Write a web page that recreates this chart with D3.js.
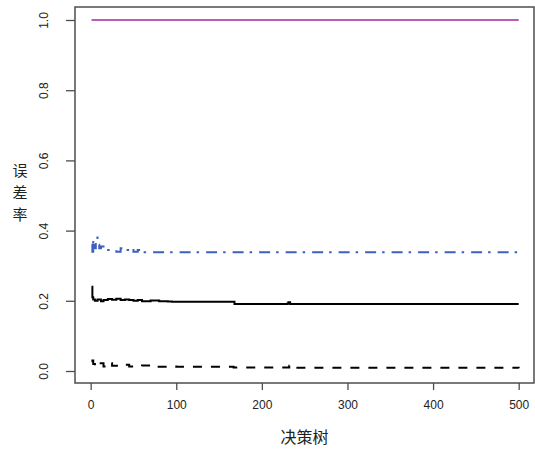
<!DOCTYPE html>
<html>
<head>
<meta charset="utf-8">
<script src="https://cdn.jsdelivr.net/npm/d3@7"></script>
<style>
  body { margin: 0; background: #fff; }
  svg { display: block; font-family: "Liberation Sans", Arial, sans-serif; }
</style>
</head>
<body>
<svg id="chart" width="535" height="450"></svg>
<script>
// box of the plot region
const box = { left: 75, right: 534, top: 7, bottom: 383 };

// tick labels
var xTicks = [0, 100, 200, 300, 400, 500]
var yTicks = [0.0, 0.2, 0.4, 0.6, 0.8, 1.0]

// error rate per number of trees (tree, value)
var oobTrees = [1, 2, 3, 5, 8, 12, 15, 20, 25, 30, 35, 40, 45, 50, 55, 60, 70, 80, 90, 95, 167, 168, 230, 231, 233, 500]
var oobErr = [0.24, 0.21, 0.204, 0.2, 0.204, 0.199, 0.202, 0.205, 0.203, 0.206, 0.202, 0.204, 0.202, 0.2, 0.202, 0.199, 0.201, 0.199, 0.198, 0.197, 0.197, 0.191, 0.192, 0.196, 0.191, 0.191]

var classATrees = [1, 2, 3, 5, 8, 10, 15, 20, 25, 40, 45, 60, 70, 90, 100, 167, 232, 234, 500]
var classAErr = [0.028, 0.03, 0.02, 0.013, 0.02, 0.022, 0.013, 0.022, 0.015, 0.018, 0.013, 0.016, 0.012, 0.013, 0.012, 0.01, 0.015, 0.009, 0.008]

var classBTrees = [1, 2, 3, 4, 6, 8, 10, 12, 15, 18, 25, 30, 35, 40, 45, 50, 55, 60, 500]
var classBErr = [0.36, 0.34, 0.375, 0.35, 0.38, 0.36, 0.35, 0.355, 0.35, 0.345, 0.345, 0.34, 0.35, 0.345, 0.35, 0.34, 0.345, 0.338, 0.338]

var classCTrees = [1, 500]
var classCErr = [1.0, 1.0]

var series = [
    { trees: classCTrees, err: classCErr, color: '#b95db7', dash: null },
    { trees: classBTrees, err: classBErr, color: '#3c60bd', dash: '11,6,2.5,7' },
    { trees: oobTrees, err: oobErr, color: '#000000', dash: null },
    { trees: classATrees, err: classAErr, color: '#000000', dash: '9,9' }
]

var svg = d3.select('#chart')

var xScale = d3.scaleLinear()
    .domain([-18.3, 517.9])
    .range([box.left, box.right])

var yScale = d3.scaleLinear()
    .domain([0, 1])
    .range([371, 20])

var line = d3.line()
    .x(d => xScale(d[0]))
    .y(d => yScale(d[1]))
    .curve(d3.curveStepAfter)

series.forEach(s => {
    let pts = s.trees.map((t, i) => [t, s.err[i]])
    svg.append('path')
        .attr('d', line(pts))
        .attr('fill', 'none')
        .attr('stroke', s.color)
        .attr('stroke-width', 2)
        .attr('stroke-dasharray', s.dash)
})

// plot box
svg.append('rect')
    .attr('x', box.left)
    .attr('y', box.top)
    .attr('width', box.right - box.left)
    .attr('height', box.bottom - box.top)
    .attr('fill', 'none')
    .attr('stroke', '#4d4d4d')
    .attr('stroke-width', 1.5)

// x axis
const xAxis = d3.axisBottom(xScale)
    .tickValues(xTicks)
    .tickSize(7)
    .tickPadding(10)
    .tickFormat(d3.format('d'))

const gx = svg.append('g')
    .attr('transform', 'translate(0,' + box.bottom + ')')
    .call(xAxis)
gx.select('.domain').remove()
gx.selectAll('line').attr('stroke', '#4d4d4d').attr('stroke-width', 1.3)
gx.selectAll('text').attr('fill', '#222').style('font-size', '12px')

// y axis, labels turned like R does
const yAxis = d3.axisLeft(yScale)
    .tickValues(yTicks)
    .tickSize(9)
    .tickFormat(d3.format('.1f'))

const gy = svg.append('g')
    .attr('transform', 'translate(' + box.left + ',0)')
    .call(yAxis)
gy.select('.domain').remove()
gy.selectAll('line').attr('stroke', '#4d4d4d').attr('stroke-width', 1.3)
gy.selectAll('text')
    .attr('fill', '#222')
    .style('font-size', '12px')
    .attr('x', null)
    .attr('dy', null)
    .attr('text-anchor', 'middle')
    .attr('transform', 'translate(-27,0) rotate(-90)')

// axis titles
svg.append('text')
    .attr('x', (box.left + box.right) / 2)
    .attr('y', 443)
    .attr('text-anchor', 'middle')
    .style('font-family', '"Noto Sans CJK SC", sans-serif')
    .style('font-size', '16px')
    .attr('fill', '#222')
    .text('决策树')

var yTitle = ['误', '差', '率']
yTitle.forEach((c, i) => {
    svg.append('text')
        .attr('x', 20)
        .attr('y', 176 + i * 22)
        .attr('text-anchor', 'middle')
        .style('font-family', '"Noto Sans CJK SC", sans-serif')
        .style('font-size', '15px')
        .attr('fill', '#222')
        .text(c)
})
</script>
</body>
</html>
